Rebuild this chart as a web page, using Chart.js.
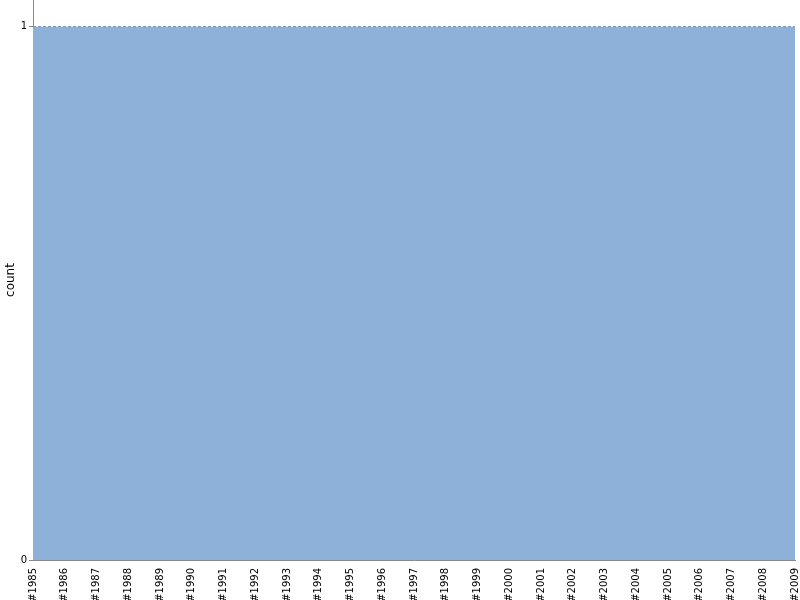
<!DOCTYPE html>
<html>
<head>
<meta charset="utf-8">
<script src="https://cdn.jsdelivr.net/npm/chart.js@4/dist/chart.umd.min.js"></script>
<style>
  html, body { margin: 0; padding: 0; background: #fff; }
  #wrap { width: 800px; height: 600px; }
</style>
</head>
<body>
<div id="wrap"><canvas id="chart"></canvas></div>
<script>
const years = [
  "#1985", "#1986", "#1987", "#1988", "#1989", "#1990", "#1991", "#1992", "#1993",
  "#1994", "#1995", "#1996", "#1997", "#1998", "#1999", "#2000", "#2001", "#2002",
  "#2003", "#2004", "#2005", "#2006", "#2007", "#2008", "#2009"
];
const counts = [1, 1, 1, 1, 1, 1, 1, 1, 1, 1, 1, 1, 1, 1, 1, 1, 1, 1, 1, 1, 1, 1, 1, 1, 1];
const yTicks = [0, 1];

Chart.defaults.font.family = "'DejaVu Sans', sans-serif";
Chart.defaults.color = "#000";

// keep the plot flush with the top and right edges like the original
function noEdgePadding(scale) {
  scale.paddingTop = 0;
  scale.paddingRight = 0;
  scale.paddingLeft = 0;
  scale.paddingBottom = 0;
}

const ctx = document.getElementById("chart").getContext("2d");
new Chart(ctx, {
  type: "line",
  data: {
    labels: years,
    datasets: [
      {
        label: "count",
        data: counts,
        fill: "origin",
        backgroundColor: "rgb(142,177,218)",
        borderColor: "rgb(112,142,182)",
        borderWidth: 1,
        borderDash: [3, 2],
        pointRadius: 0,
        tension: 0,
      },
    ],
  },
  options: {
    responsive: true,
    maintainAspectRatio: false,
    animation: false,
    layout: {
      autoPadding: false,
      padding: { top: 0, right: 5, bottom: 0, left: 0 },
    },
    plugins: {
      legend: { display: false },
      tooltip: { enabled: false },
    },
    scales: {
      x: {
        offset: false,
        grid: { display: false },
        border: { display: true, color: "#888" },
        ticks: {
          autoSkip: false,
          maxRotation: 90,
          minRotation: 90,
          padding: 0,
          font: { size: 10 },
        },
        afterFit: (scale) => {
          scale.height = 40;
          noEdgePadding(scale);
        },
      },
      y: {
        min: 0,
        max: 1.05,
        afterBuildTicks: (scale) => {
          scale.ticks = yTicks.map((v) => ({ value: v }));
        },
        grid: {
          display: true,
          drawOnChartArea: false,
          drawTicks: true,
          tickLength: 4,
          color: "#888",
        },
        border: { display: true, color: "#888" },
        ticks: {
          padding: 2,
          font: { size: 10 },
          callback: (value) => value.toFixed(0),
        },
        title: {
          display: true,
          text: "count",
          font: { size: 12 },
          padding: { top: 4, bottom: 0 },
        },
        afterFit: (scale) => {
          scale.width = 33;
          noEdgePadding(scale);
        },
      },
    },
  },
});
</script>
</body>
</html>
